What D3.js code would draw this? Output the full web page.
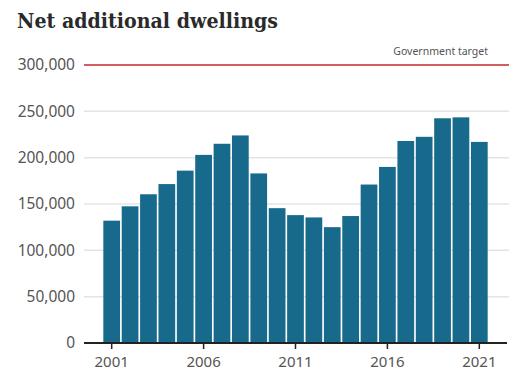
<!DOCTYPE html>
<html><head><meta charset="utf-8">
<script src="https://cdn.jsdelivr.net/npm/d3@7"></script>
<style>body{margin:0;background:#fff}svg{display:block}</style>
</head><body>
<svg id="c" width="515" height="374"></svg>
<script>
const years = [2001,2002,2003,2004,2005,2006,2007,2008,2009,2010,2011,2012,2013,2014,2015,2016,2017,2018,2019,2020,2021];
const dwellings = [132000,147500,160500,171500,186000,203000,215000,224000,183000,145500,138000,135500,125000,137000,171000,190000,218000,222500,242500,243500,217000];
const yTicks = [0,50000,100000,150000,200000,250000,300000];
const xTickYears = [2001,2006,2011,2016,2021];
const target = 300000;
const title = "Net additional dwellings";
const targetLabel = "Government target";

const svg = d3.select("#c");
const x = d3.scaleBand().domain(years).range([102.5,488.5]).paddingInner(0.09).paddingOuter(0.045);
const y = d3.scaleLinear().domain([0,300000]).range([343,65]);
const left = 84, right = 509;

svg.append("text").attr("x",17).attr("y",27.5).text(title)
  .attr("font-family","DejaVu Serif, serif").attr("font-weight","bold").attr("font-size",19.5)
  .attr("textLength",261).attr("lengthAdjust","spacingAndGlyphs").attr("fill","#2a2a2a");

// gridlines
svg.append("g").selectAll("line").data(yTicks.filter(d=>d>0 && d<target)).join("line")
  .attr("x1",left).attr("x2",right).attr("y1",d=>y(d)).attr("y2",d=>y(d))
  .attr("stroke","#e4e4e4").attr("stroke-width",1.5);

// y labels
svg.append("g").selectAll("text").data(yTicks).join("text")
  .attr("x",75).attr("y",d=>y(d)).attr("dy","0.35em").attr("text-anchor","end")
  .text(d3.format(","))
  .attr("font-family","Noto Sans, sans-serif").attr("font-size",15.5).attr("fill","#555");

// bars
svg.append("g").selectAll("rect").data(years).join("rect")
  .attr("x",d=>x(d)).attr("width",x.bandwidth())
  .attr("y",(d,i)=>y(dwellings[i])).attr("height",(d,i)=>y(0)-y(dwellings[i]))
  .attr("fill","#176a8c");

// target line
svg.append("line").attr("x1",left).attr("x2",right).attr("y1",y(target)).attr("y2",y(target))
  .attr("stroke","#c0282e").attr("stroke-width",1.5);
svg.append("text").attr("x",488).attr("y",y(target)-10).attr("text-anchor","end").text(targetLabel)
  .attr("font-family","Noto Sans, sans-serif").attr("font-size",10.5).attr("fill","#555");

// x axis
const xa = svg.append("g").attr("transform",`translate(0,${y(0)})`);
xa.append("line").attr("x1",left).attr("x2",507).attr("stroke","#222").attr("stroke-width",2);
xa.selectAll("line.t").data(xTickYears).join("line").attr("class","t")
  .attr("x1",d=>x(d)+x.bandwidth()/2).attr("x2",d=>x(d)+x.bandwidth()/2)
  .attr("y1",0).attr("y2",6).attr("stroke","#222").attr("stroke-width",1.5);
xa.selectAll("text").data(xTickYears).join("text")
  .attr("x",d=>x(d)+x.bandwidth()/2).attr("y",24).attr("text-anchor","middle").text(d=>d)
  .attr("font-family","Noto Sans, sans-serif").attr("font-size",15).attr("fill","#555");
</script>
</body></html>
